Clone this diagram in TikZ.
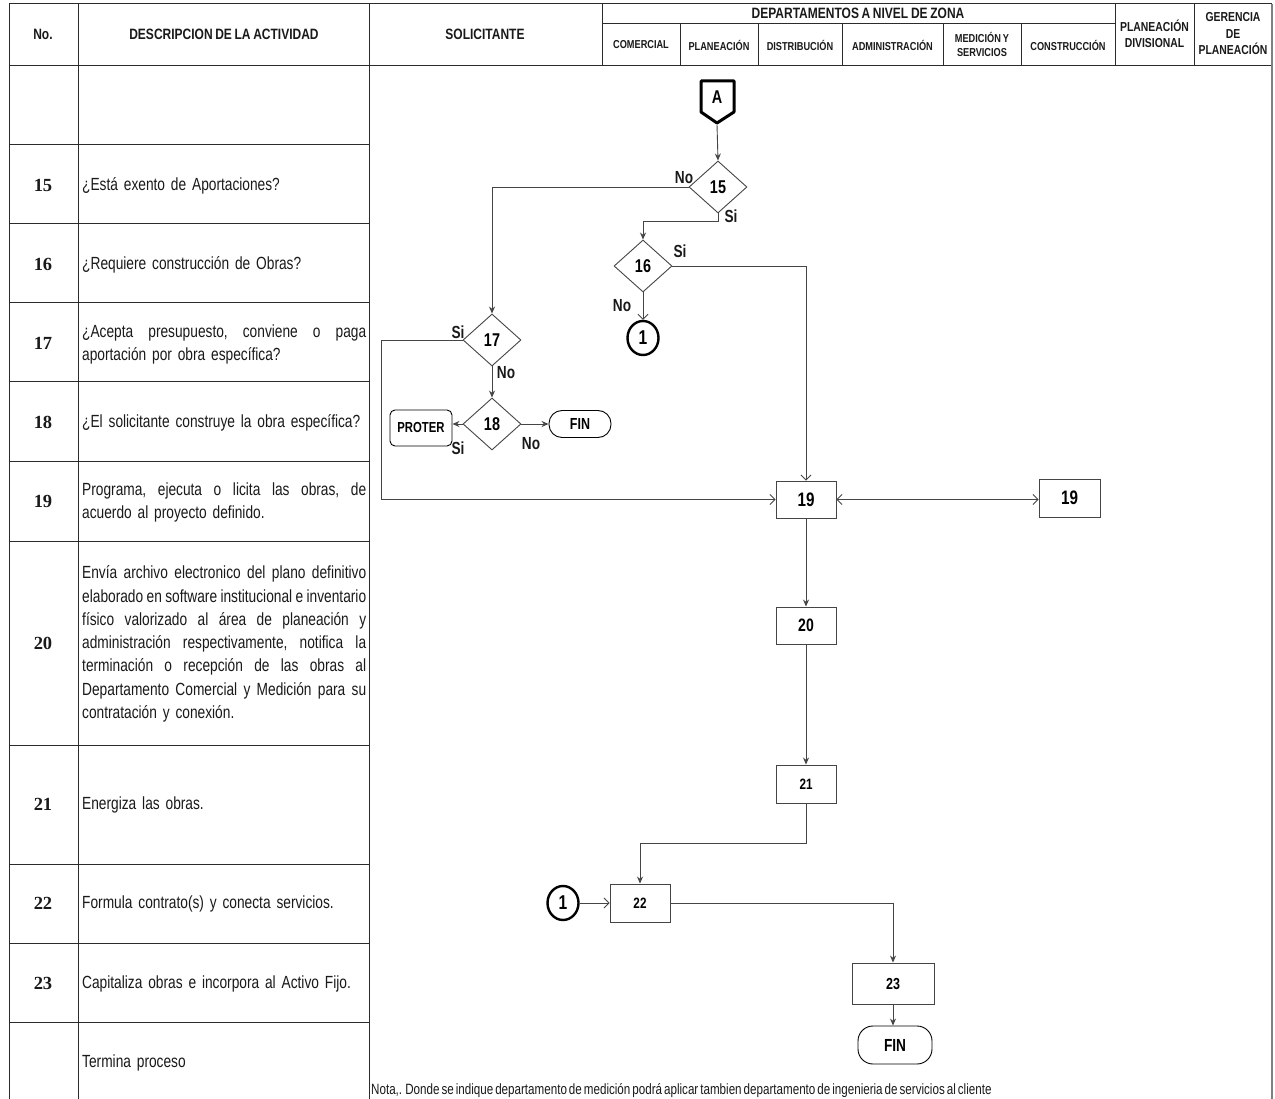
\documentclass[tikz,border=0pt]{standalone}
\usepackage{fontspec}
\setmainfont{Liberation Sans}
\newfontfamily\hdr[FakeStretch=0.8,WordSpace=0.8]{Liberation Sans}
\newfontfamily\nar[FakeStretch=0.78,WordSpace=0.62]{Liberation Sans}
\newfontfamily\ser{Liberation Serif}
\usetikzlibrary{shapes.geometric,arrows.meta}
\definecolor{gridc}{HTML}{2B2B2B}
\definecolor{flowc}{HTML}{454545}
\definecolor{txtc}{HTML}{1A1A1A}
\newcommand\jl[1]{\leavevmode\hbox to 284pt{#1}}
\begin{document}
\begin{tikzpicture}[x=1pt,y=-1pt,
  hd/.style={font=\hdr\bfseries\fontsize{15}{17}\selectfont, text=txtc, inner sep=0pt, align=center},
  sh/.style={font=\hdr\bfseries\fontsize{11.5}{14}\selectfont, text=txtc, inner sep=0pt, align=center},
  shb/.style={font=\hdr\bfseries\fontsize{13}{16.5}\selectfont, text=txtc, inner sep=0pt, align=center},
  num/.style={font=\ser\bfseries\fontsize{18.5}{20}\selectfont, text=txtc, inner sep=0pt},
  desc/.style={font=\nar\fontsize{17.6}{23.3}\selectfont, text=txtc, text width=284pt, align=left, anchor=west, inner sep=0pt},
  gl/.style={draw=gridc, line width=1pt},
  dia/.style={diamond, draw=flowc, line width=0.9pt, minimum width=58pt, minimum height=52pt, inner sep=0pt, font=\nar\bfseries\fontsize{18.5}{20}\selectfont},
  box/.style={rectangle, draw=flowc, line width=0.9pt, minimum width=60pt, minimum height=37pt, inner sep=0pt},
  lbl/.style={font=\nar\bfseries\fontsize{17.5}{19}\selectfont, inner sep=0pt, text=txtc},
  arr/.style={draw=flowc, line width=0.9pt, -{Stealth[length=7pt,width=6pt]}},
  oarr/.style={draw=flowc, line width=0.9pt, -{Straight Barb[length=5pt,width=10pt]}},
  con/.style={ellipse, draw=black, line width=2.4pt, minimum width=31pt, minimum height=34pt, inner sep=0pt, font=\nar\bfseries\fontsize{20}{22}\selectfont}
]
\useasboundingbox (0,0) rectangle (1275,1099);
\fill[white] (0,0) rectangle (1275,1099);

% ---------- grid ----------
\draw[gl] (9,4) -- (1272,4);
\draw[gl] (9,66) -- (1272,66);
\draw[gl] (602,24) -- (1115,24);
\foreach \x in {9,78,369} \draw[gl] (\x,4) -- (\x,1099);
\foreach \x in {602,1115,1194} \draw[gl] (\x,4) -- (\x,66);
\foreach \x in {680,758,842,943,1021} \draw[gl] (\x,24) -- (\x,66);
\foreach \y in {145,224,303,382,461,541,745,864,943,1022} \draw[gl] (9,\y) -- (369,\y);
\draw[draw=gray, line width=2pt] (1272,4) -- (1272,1099);

% ---------- header ----------
\node[hd] (hno) at (43,34) {No.};
\node[hd] (hdesc) at (224,34) {DESCRIPCION DE LA ACTIVIDAD};
\node[hd] (hsol) at (485,34) {SOLICITANTE};
\node[hd] (hdep) at (858,13) {DEPARTAMENTOS A NIVEL DE ZONA};
\node[sh] (hcom) at (641,45) {COMERCIAL};
\node[sh] (hpla) at (719,45) {PLANEACIÓN};
\node[sh] (hdis) at (800,45) {DISTRIBUCIÓN};
\node[sh] (hadm) at (892.5,45) {ADMINISTRACIÓN};
\node[sh] (hmed) at (982,44) {MEDICIÓN Y\\SERVICIOS};
\node[sh] (hcon) at (1068,45) {CONSTRUCCIÓN};
\node[shb] (hpdv) at (1154.5,34) {PLANEACIÓN\\DIVISIONAL};
\node[shb] (hger) at (1233,34) {GERENCIA\\DE\\PLANEACIÓN};

% ---------- rows ----------
\node[num] (n15) at (43,185) {15};
\node[num] (n16) at (43,264) {16};
\node[num] (n17) at (43,343) {17};
\node[num] (n18) at (43,422) {18};
\node[num] (n19) at (43,501) {19};
\node[num] (n20) at (43,643) {20};
\node[num] (n21) at (43,804) {21};
\node[num] (n22) at (43,903) {22};
\node[num] (n23) at (43,983) {23};

\node[desc] (t15) at (82,186) {¿Está exento de Aportaciones?};
\node[desc] (t16) at (82,265) {¿Requiere construcción de Obras?};
\node[desc] (t17) at (82,344.5) {\jl{¿Acepta\hfill presupuesto,\hfill conviene\hfill o\hfill paga}\\aportación por obra específica?};
\node[desc] (t18) at (82,423) {¿El solicitante construye la obra específica?};
\node[desc] (t19) at (82,502.5) {\jl{Programa,\hfill ejecuta\hfill o\hfill licita\hfill las\hfill obras,\hfill de}\\acuerdo al proyecto definido.};
\node[desc] (t20) at (82,644) {\jl{Envía\hfill archivo\hfill electronico\hfill del\hfill plano\hfill definitivo}\\
\jl{elaborado\hfill en\hfill software\hfill institucional\hfill e\hfill inventario}\\
\jl{físico\hfill valorizado\hfill al\hfill área\hfill de\hfill planeación\hfill y}\\
\jl{administración\hfill respectivamente,\hfill notifica\hfill la}\\
\jl{terminación\hfill o\hfill recepción\hfill de\hfill las\hfill obras\hfill al}\\
\jl{Departamento\hfill Comercial\hfill y\hfill Medición\hfill para\hfill su}\\
contratación y conexión.};
\node[desc] (t21) at (82,805) {Energiza las obras.};
\node[desc] (t22) at (82,904) {Formula contrato(s) y conecta servicios.};
\node[desc] (t23) at (82,984) {Capitaliza obras e incorpora al Activo Fijo.};
\node[desc] (t24) at (82,1063) {Termina proceso};

% ---------- flowchart ----------
\node[font=\nar\bfseries\fontsize{18.5}{20}\selectfont, inner sep=0pt] (A) at (717,97) {A};
\draw[black, line width=3pt, line join=round] (701,81) -- (734,81) -- (734,112) -- (717,123) -- (701,112) -- cycle;
\coordinate (Abot) at (717,124.5);

\node[dia] (d15) at (718,187) {15};
\node[dia] (d16) at (643,266) {16};
\node[dia] (d17) at (492,340) {17};
\node[dia] (d18) at (492,424) {18};
\node[con] (c1a) at (643,338) {1};
\node[rectangle, rounded corners=5pt, draw=black, line width=0.9pt, minimum width=62pt, minimum height=36pt, inner sep=0pt, font=\nar\bfseries\fontsize{14.5}{16}\selectfont] (proter) at (421,428) {PROTER};
\node[rectangle, rounded corners=13pt, draw=black, line width=0.9pt, minimum width=62pt, minimum height=27pt, inner sep=0pt, font=\nar\bfseries\fontsize{16}{18}\selectfont] (fin1) at (580,424) {FIN};
\node[box, font=\nar\bfseries\fontsize{19.5}{21}\selectfont] (b19) at (806,499.5) {19};
\node[box, minimum width=61pt, minimum height=38pt, font=\nar\bfseries\fontsize{19.5}{21}\selectfont] (b19b) at (1069.5,498) {19};
\node[box, font=\nar\bfseries\fontsize{18}{20}\selectfont] (b20) at (806,625.5) {20};
\node[box, minimum height=38pt, font=\nar\bfseries\fontsize{15}{17}\selectfont] (b21) at (806,784) {21};
\node[con] (c1b) at (563,903) {1};
\node[box, minimum height=38pt, font=\nar\bfseries\fontsize{15}{17}\selectfont] (b22) at (640,903) {22};
\node[box, minimum width=82pt, minimum height=41pt, font=\nar\bfseries\fontsize{16}{18}\selectfont] (b23) at (893,983.5) {23};
\node[rectangle, rounded corners=15pt, draw=black, line width=0.9pt, minimum width=74pt, minimum height=38pt, inner sep=0pt, font=\nar\bfseries\fontsize{17.5}{19}\selectfont] (fin2) at (895,1045) {FIN};

% connectors
\draw[arr] (Abot) -- (d15.north);
\draw[arr] (d15.west) -| (d17.north);
\draw[arr] (d15.south) -- ++(0,8) -| (d16.north);
\draw[oarr] (d16.east) -| (b19.north);
\draw[oarr] (d16.south) -- (c1a.north);
\draw[oarr] (d17.west) -- ++(-81,0) |- (b19.west);
\draw[arr] (d17.south) -- (d18.north);
\draw[arr] (d18.west) -- (d18.west -| proter.east);
\draw[arr] (d18.east) -- (d18.east -| fin1.west);
\draw[draw=flowc, line width=0.9pt, {Straight Barb[length=5pt,width=10pt]}-{Straight Barb[length=5pt,width=10pt]}] (b19.east) -- (b19.east -| b19b.west);
\draw[arr] (b19.south) -- (b20.north);
\draw[arr] (b20.south) -- (b21.north);
\draw[arr] (b21.south) -- ++(0,40) -| (b22.north);
\draw[oarr] (c1b.east) -- (b22.west);
\draw[arr] (b22.east) -| (b23.north);
\draw[arr] (b23.south) -- (b23.south |- fin2.north);

% labels
\node[lbl] (l15no) at (684,178) {No};
\node[lbl] (l15si) at (731,216) {Si};
\node[lbl] (l16si) at (680,251) {Si};
\node[lbl] (l16no) at (622,306) {No};
\node[lbl] (l17si) at (458,332) {Si};
\node[lbl] (l17no) at (506,373) {No};
\node[lbl] (l18si) at (458,448) {Si};
\node[lbl] (l18no) at (531,444) {No};

\node[font=\nar\fontsize{14.9}{16}\selectfont, text=txtc, anchor=west, inner sep=0pt] (nota) at (371,1091) {Nota,. Donde se indique departamento de medición podrá aplicar tambien departamento de ingenieria de servicios al cliente};
\end{tikzpicture}
\end{document}
